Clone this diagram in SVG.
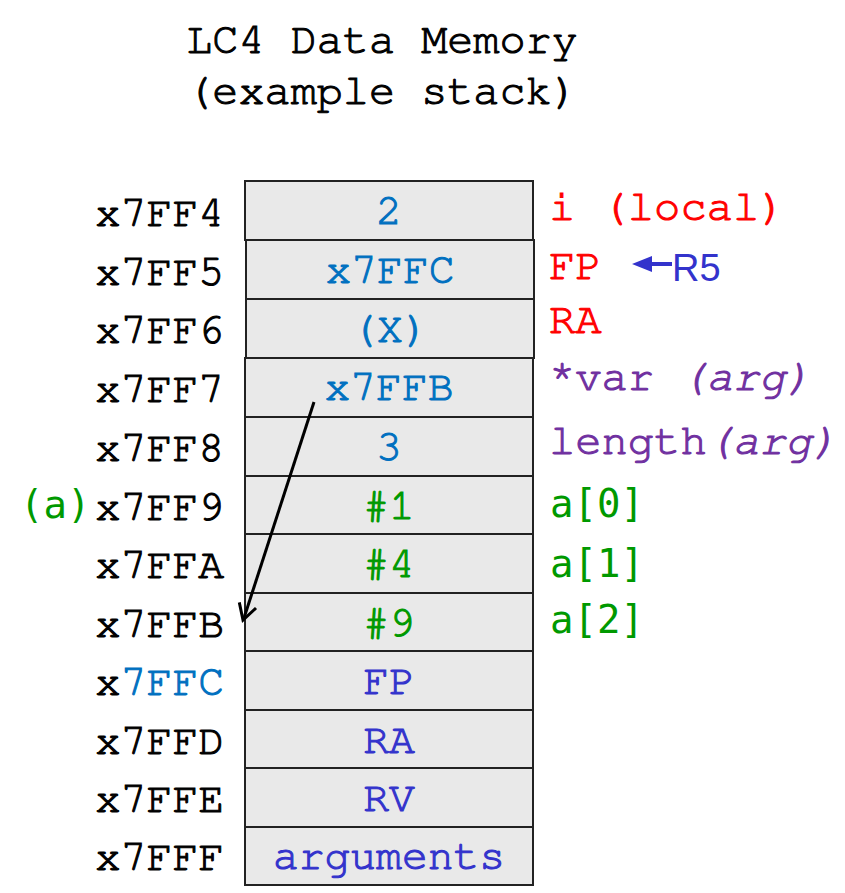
<svg xmlns="http://www.w3.org/2000/svg" width="845" height="893" viewBox="0 0 845 893">
<style>
.m{font-family:"Nimbus Mono PS","FreeMono","Courier New","Liberation Mono",monospace;font-size:43px;stroke-width:1.1px}
.addr{fill:#000;stroke:#000;text-anchor:end}
.cell{fill:#e9e9e9;stroke:#222;stroke-width:2}
.c{text-anchor:middle}
.b{fill:#0070c0;stroke:#0070c0}
.g{fill:#009900;stroke:#009900}
.v{fill:#3333cc;stroke:#3333cc}
.r{fill:#ff0000;stroke:#ff0000}
.p{fill:#7030a0;stroke:#7030a0}
text.s{font-family:"DejaVu Sans Mono",monospace;font-size:39px;stroke:none}
.lbl{font-size:43.8px}
</style>
<g id="title">
<text class="m" x="382" y="53" text-anchor="middle" fill="#000" stroke="#000" style="font-size:43.5px">LC4 Data Memory</text>
<text class="m" x="382" y="104" text-anchor="middle" fill="#000" stroke="#000" style="font-size:43.5px">(example stack)</text>
</g>
<g id="addresses">
<text class="m addr" x="224" y="226">x7FF4</text>
<text class="m addr" x="224" y="285">x7FF5</text>
<text class="m addr" x="224" y="343">x7FF6</text>
<text class="m addr" x="224" y="402">x7FF7</text>
<text class="m addr" x="224" y="461">x7FF8</text>
<text class="m addr" x="224" y="520">x7FF9</text>
<text class="m addr" x="224" y="578">x7FFA</text>
<text class="m addr" x="224" y="637">x7FFB</text>
<text class="m addr" x="224" y="695">x<tspan class="b">7FFC</tspan></text>
<text class="m addr" x="224" y="754">x7FFD</text>
<text class="m addr" x="224" y="812">x7FFE</text>
<text class="m addr" x="224" y="870">x7FFF</text>
<text class="s g" x="20" y="518">(a)</text>
</g>
<g id="cell-x7FF4"><rect class="cell" x="245" y="181" width="288" height="59"/><text class="m c b" x="389" y="224">2</text></g>
<g id="cell-x7FF5"><rect class="cell" x="246" y="240" width="288" height="59"/><text class="m c b" x="390" y="283">x7FFC</text></g>
<g id="cell-x7FF6"><rect class="cell" x="246" y="299" width="288" height="59"/><text class="m c b" x="390" y="342">(X)</text></g>
<g id="cell-x7FF7"><rect class="cell" x="245" y="358" width="288" height="59"/><text class="m c b" x="389" y="400">x7FFB</text></g>
<g id="cell-x7FF8"><rect class="cell" x="245" y="417" width="288" height="59"/><text class="m c b" x="389" y="460">3</text></g>
<g id="cell-x7FF9"><rect class="cell" x="245" y="476" width="288" height="58"/><text class="m c g" x="389" y="519">#1</text></g>
<g id="cell-x7FFA"><rect class="cell" x="245" y="534" width="288" height="59"/><text class="m c g" x="389" y="577">#4</text></g>
<g id="cell-x7FFB"><rect class="cell" x="245" y="593" width="288" height="58"/><text class="m c g" x="389" y="636">#9</text></g>
<g id="cell-x7FFC"><rect class="cell" x="245" y="651" width="288" height="59"/><text class="m c v" x="389" y="694">FP</text></g>
<g id="cell-x7FFD"><rect class="cell" x="245" y="710" width="288" height="58"/><text class="m c v" x="389" y="753">RA</text></g>
<g id="cell-x7FFE"><rect class="cell" x="245" y="768" width="288" height="59"/><text class="m c v" x="389" y="811">RV</text></g>
<g id="cell-x7FFF"><rect class="cell" x="245" y="827" width="288" height="58"/><text class="m c v" x="389" y="869">arguments</text></g>
<g id="labels">
<text class="m r lbl" x="549" y="220">i (local)</text>
<text class="m r lbl" x="549" y="279">FP</text>
<text class="m r lbl" x="549" y="333">RA</text>
<text class="m p lbl" x="549" y="390">*var <tspan font-style="italic">(arg)</tspan></text>
<text class="m p lbl" x="549" y="454">length<tspan font-style="italic">(arg)</tspan></text>
<text class="s g" x="550" y="517">a[0]</text>
<text class="s g" x="550" y="577">a[1]</text>
<text class="s g" x="550" y="633">a[2]</text>
<text x="672" y="281" fill="#3333cc" style="font-family:'Liberation Sans',Arial,sans-serif;font-size:38px">R5</text>
</g>
<g id="connectors">
<line x1="314" y1="402" x2="244" y2="618" stroke="#000" stroke-width="3"/>
<path d="M256,608 L243,620 L239.3,602.4" fill="none" stroke="#000" stroke-width="3" stroke-linejoin="miter"/>
<line x1="672" y1="264" x2="645" y2="264" stroke="#3333cc" stroke-width="4"/>
<path d="M632,264 L652,256 L652,272 Z" fill="#3333cc"/>
</g>
</svg>
